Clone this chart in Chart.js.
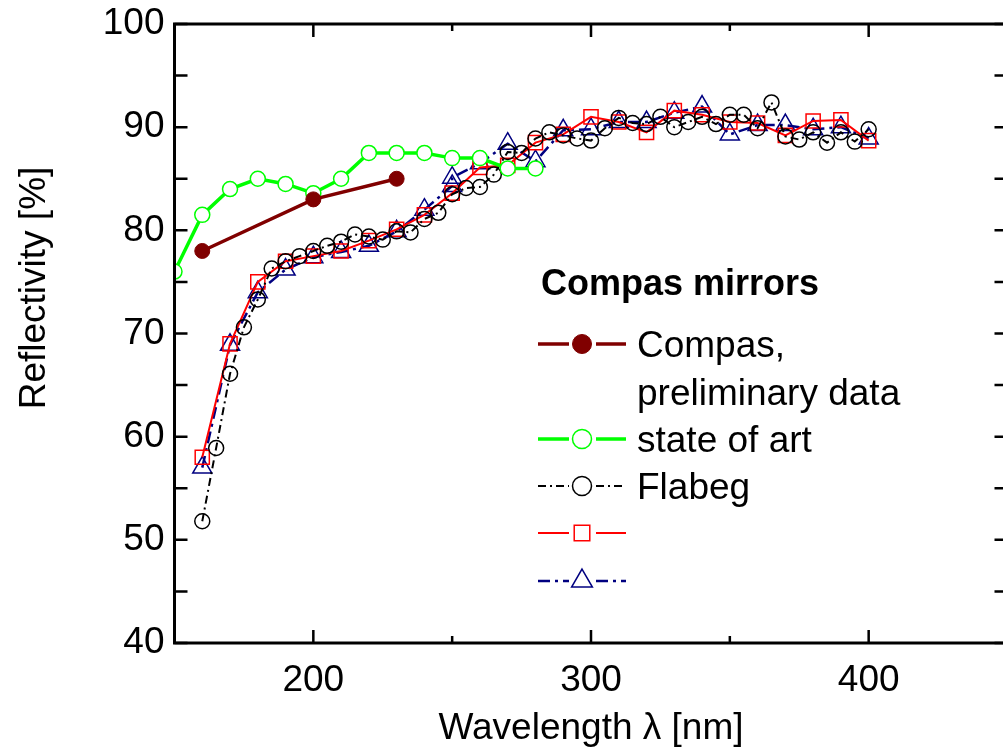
<!DOCTYPE html>
<html>
<head>
<meta charset="utf-8">
<title>Compas mirrors</title>
<script src="https://cdn.jsdelivr.net/npm/chart.js@4.4.1/dist/chart.umd.min.js"></script>
<style>
  html, body { margin: 0; padding: 0; background: #fff; overflow: hidden; }
  #wrap { width: 1003px; height: 754px; overflow: hidden; }
</style>
</head>
<body>
<div id="wrap"><canvas id="chart" width="1020" height="754"></canvas></div>
<script>
// Reflectivity of mirror samples vs wavelength
const compasX = [160, 200, 230];
const compasY = [78, 83, 85];

const artX = [150, 160, 170, 180, 190, 200, 210, 220, 230, 240, 250, 260, 270, 280];
const artY = [76, 81.5, 84, 85, 84.5, 83.6, 85, 87.5, 87.5, 87.5, 87, 87, 86, 86];

const flabegX = [160, 165, 170, 175, 180, 185, 190, 195, 200, 205, 210, 215, 220, 225, 230, 235,
  240, 245, 250, 255, 260, 265, 270, 275, 280, 285, 290, 295, 300, 305, 310, 315, 320, 325,
  330, 335, 340, 345, 350, 355, 360, 365, 370, 375, 380, 385, 390, 395, 400];
const flabegY = [51.8, 58.9, 66.1, 70.6, 73.3, 76.3, 77, 77.5, 78, 78.5, 78.9, 79.6, 79.4, 79.1, 79.9, 79.8,
  81.1, 81.7, 83.5, 84.1, 84.2, 85.4, 87.6, 87.5, 88.9, 89.5, 89.2, 88.9, 88.7, 89.9, 90.9, 90.4, 90.3, 91,
  90, 90.5, 91, 90.3, 91.2, 91.2, 89.9, 92.4, 89.1, 88.8, 89.5, 88.5, 89.5, 88.6, 89.8];

const squaresX = [160, 170, 180, 190, 200, 210, 220, 230, 240, 250, 260, 270, 280, 290, 300,
  310, 320, 330, 340, 350, 360, 370, 380, 390, 400];
const squaresY = [58, 69, 75, 77, 77.5, 78, 79, 80.1, 81.5, 83.6, 86.1, 86.3, 88.5, 89.3, 91,
  90.5, 89.5, 91.6, 91.2, 90.5, 90.4, 89.2, 90.6, 90.7, 88.7];

const trianglesX = [160, 170, 180, 190, 200, 210, 220, 230, 240, 250, 250, 260, 270, 280, 290,
  300, 310, 320, 330, 340, 350, 360, 370, 380, 390, 400];
const trianglesY = [57, 68.9, 74, 76.2, 77.4, 77.9, 78.5, 79.9, 82, 84.3, 85.1, 86.5, 88.4, 86.7, 89.7,
  89.8, 90.5, 90.5, 91.4, 92, 89.3, 90.2, 90.2, 89.8, 90, 88.9];

const xTickValues = [200, 300, 400];
const yTickValues = [40, 50, 60, 70, 80, 90, 100];
const xMinorValues = [250, 350];
const yMinorValues = [45, 55, 65, 75, 85, 95];

const FONT = "'Liberation Sans', Arial, Helvetica, sans-serif";

function toPoints(xs, ys) {
  return xs.map((x, i) => ({ x: x, y: ys[i] }));
}

const datasets = [
  {
    label: 'Compas,\npreliminary data',
    data: toPoints(compasX, compasY),
    borderColor: '#800000',
    borderWidth: 3.5,
    pointStyle: 'circle',
    pointRadius: 7.5,
    pointBorderWidth: 1,
    pointBackgroundColor: '#800000',
    pointBorderColor: '#800000',
    legendRadius: 9.5
  },
  {
    label: 'state of art',
    data: toPoints(artX, artY),
    borderColor: '#00ff00',
    borderWidth: 3.5,
    pointStyle: 'circle',
    pointRadius: 7.5,
    pointBorderWidth: 1.5,
    pointBackgroundColor: '#ffffff',
    pointBorderColor: '#00ff00',
    legendRadius: 9.5
  },
  {
    label: 'Flabeg',
    data: toPoints(flabegX, flabegY),
    borderColor: '#000000',
    borderWidth: 2,
    borderDash: [8, 4, 2, 4],
    pointStyle: 'circle',
    pointRadius: 7.5,
    pointBorderWidth: 1.5,
    pointBackgroundColor: 'rgba(0,0,0,0)',
    pointBorderColor: '#000000',
    legendRadius: 9.5
  },
  {
    label: '',
    data: toPoints(squaresX, squaresY),
    borderColor: '#ff0000',
    borderWidth: 2,
    pointStyle: 'rect',
    pointRadius: 10,
    pointBorderWidth: 1.5,
    pointBackgroundColor: 'rgba(0,0,0,0)',
    pointBorderColor: '#ff0000',
    legendRadius: 11
  },
  {
    label: '',
    data: toPoints(trianglesX, trianglesY),
    borderColor: '#000080',
    borderWidth: 2.5,
    borderDash: [12, 5, 3, 5],
    pointStyle: 'triangle',
    pointRadius: 11,
    pointBorderWidth: 1.5,
    pointBackgroundColor: 'rgba(0,0,0,0)',
    pointBorderColor: '#000080',
    legendRadius: 12
  }
];
datasets.forEach(d => { d.tension = 0; d.fill = false; });

// box frame with inward ticks on all four sides
const framePlugin = {
  id: 'frame',
  afterDatasetsDraw(chart) {
    const { ctx, chartArea: a, scales } = chart;
    const xs = scales.x, ys = scales.y;
    ctx.save();
    ctx.strokeStyle = '#000';
    ctx.lineWidth = 2.5;
    ctx.lineCap = 'butt';
    ctx.beginPath();
    const tick = (x1, y1, x2, y2) => { ctx.moveTo(x1, y1); ctx.lineTo(x2, y2); };
    xTickValues.forEach(v => {
      const px = xs.getPixelForValue(v);
      tick(px, a.bottom, px, a.bottom - 13);
      tick(px, a.top, px, a.top + 13);
    });
    xMinorValues.forEach(v => {
      const px = xs.getPixelForValue(v);
      tick(px, a.bottom, px, a.bottom - 7);
      tick(px, a.top, px, a.top + 7);
    });
    yTickValues.concat(yMinorValues).forEach(v => {
      const py = ys.getPixelForValue(v);
      tick(a.left, py, a.left + 13, py);
      tick(a.right, py, a.right - 13, py);
    });
    ctx.stroke();
    ctx.lineWidth = 3;
    ctx.strokeRect(a.left, a.top, a.right - a.left, a.bottom - a.top);
    ctx.restore();
  }
};

// vertical axis title
const yTitlePlugin = {
  id: 'yTitle',
  afterDraw(chart) {
    const ctx = chart.ctx;
    ctx.save();
    ctx.translate(35, 288);
    ctx.rotate(-Math.PI / 2);
    ctx.font = '37px ' + FONT;
    ctx.fillStyle = '#000';
    ctx.textAlign = 'center';
    ctx.textBaseline = 'middle';
    ctx.fillText('Reflectivity [%]', 0, 0);
    ctx.restore();
  }
};

// legend inside the plot, with line samples and symbols
const legendPlugin = {
  id: 'boxLegend',
  afterDraw(chart) {
    const ctx = chart.ctx;
    const rows = [344, 439, 486, 533, 581];
    ctx.save();
    ctx.fillStyle = '#000';
    ctx.font = 'bold 36px ' + FONT;
    ctx.textBaseline = 'alphabetic';
    ctx.textAlign = 'left';
    ctx.fillText('Compas mirrors', 541, 295);

    chart.data.datasets.forEach((ds, i) => {
      const y = rows[i];
      ctx.save();
      ctx.strokeStyle = ds.borderColor;
      ctx.lineWidth = ds.borderWidth;
      ctx.setLineDash(ds.borderDash || []);
      ctx.beginPath();
      ctx.moveTo(538, y); ctx.lineTo(569, y);
      ctx.moveTo(596, y); ctx.lineTo(626, y);
      ctx.stroke();
      ctx.setLineDash([]);
      ctx.fillStyle = ds.pointBackgroundColor;
      ctx.strokeStyle = ds.pointBorderColor;
      ctx.lineWidth = ds.pointBorderWidth;
      Chart.helpers.drawPoint(ctx, {
        pointStyle: ds.pointStyle, rotation: 0,
        radius: ds.legendRadius, borderWidth: ds.pointBorderWidth
      }, 582, y);
      ctx.restore();

      ctx.fillStyle = '#000';
      ctx.font = '37px ' + FONT;
      ds.label.split('\n').forEach((line, k) => {
        ctx.fillText(line, 637, y + 13 + k * 48);
      });
    });
    ctx.restore();
  }
};

new Chart(document.getElementById('chart'), {
  type: 'line',
  data: { datasets: datasets },
  options: {
    responsive: false,
    animation: false,
    layout: { padding: { top: 24, right: 7, left: 0, bottom: 0 } },
    plugins: {
      legend: { display: false },
      tooltip: { enabled: false }
    },
    scales: {
      x: {
        type: 'linear',
        min: 150,
        max: 450,
        afterFit: s => { s.height = 111; s.paddingLeft = 0; s.paddingRight = 0; },
        afterBuildTicks: s => { s.ticks = xTickValues.map(v => ({ value: v })); },
        grid: { display: false, drawTicks: false },
        border: { display: false },
        ticks: { padding: 16, maxRotation: 0, color: '#000', font: { family: FONT, size: 37 } },
        title: {
          display: true,
          text: 'Wavelength λ [nm]',
          color: '#000',
          font: { family: FONT, size: 37 },
          padding: { top: 0, bottom: 3 }
        }
      },
      y: {
        type: 'linear',
        min: 40,
        max: 100,
        afterFit: s => { s.width = 174.5; s.paddingTop = 0; s.paddingBottom = 0; },
        afterBuildTicks: s => { s.ticks = yTickValues.map(v => ({ value: v })); },
        grid: { display: false, drawTicks: false },
        border: { display: false },
        ticks: { padding: 10, color: '#000', font: { family: FONT, size: 37 } }
      }
    }
  },
  plugins: [framePlugin, yTitlePlugin, legendPlugin]
});
</script>
</body>
</html>
